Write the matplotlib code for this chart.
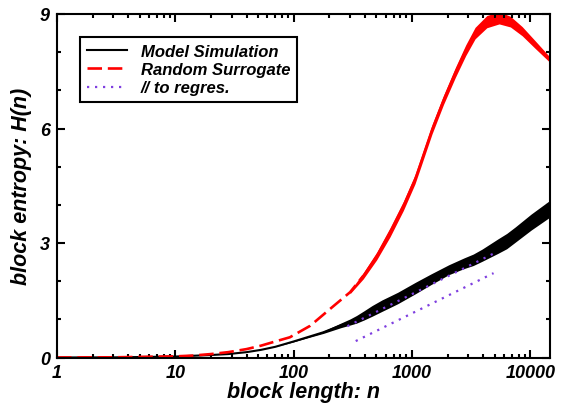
import matplotlib
matplotlib.use("Agg")
import matplotlib.pyplot as plt
from matplotlib.ticker import LogLocator, NullFormatter

# block entropy of the model run
sim_n = [1, 3, 10, 14, 20, 28, 40, 53, 70, 100, 140, 178, 250, 300, 340, 392, 460, 560, 653, 760,
         1070, 1450, 2050, 2760, 3300, 3920, 5350, 6330, 7470, 10200, 14700]
sim_h = [0, 0.003, 0.025, 0.045, 0.065, 0.09, 0.14, 0.2, 0.28, 0.42, 0.56, 0.66, 0.84, 0.93, 1.0, 1.1, 1.22, 1.36, 1.46, 1.56,
         1.82, 2.05, 2.3, 2.47, 2.56, 2.68, 2.92, 3.05, 3.22, 3.55, 3.9]
# half-width of the fluctuations around it
sim_spread = [0, 0, 0, 0, 0, 0, 0, 0, 0, 0.01, 0.02, 0.03, 0.06, 0.08, 0.1, 0.12, 0.14, 0.15, 0.15, 0.15,
              0.15, 0.14, 0.13, 0.14, 0.15, 0.16, 0.19, 0.2, 0.2, 0.21, 0.22]

# block entropy of the shuffled surrogate
surr_n = [1, 3, 10, 14, 20, 28, 40, 53, 70, 93, 138, 203, 300, 388, 504, 653, 846, 1062,
          1200, 1480, 1850, 2330, 2850, 3420, 4300, 5460, 6800, 8550, 11000, 14700]
surr_h = [0, 0.005, 0.03, 0.05, 0.09, 0.14, 0.22, 0.31, 0.42, 0.53, 0.83, 1.27, 1.71, 2.14, 2.66, 3.28, 3.97, 4.67,
          5.15, 5.98, 6.75, 7.47, 8.05, 8.5, 8.8, 8.9, 8.8, 8.55, 8.2, 7.8]
surr_spread = [0, 0, 0, 0, 0, 0, 0, 0, 0, 0, 0, 0, 0.04, 0.08, 0.1, 0.12, 0.12, 0.12,
               0.12, 0.12, 0.12, 0.13, 0.14, 0.15, 0.16, 0.16, 0.14, 0.12, 0.1, 0.07]
NOISY_START = 12  # surrogate fluctuations become visible from this index
DASH_END = 14     # dashed pattern is drawn up to this index

# lines parallel to the regression
fit_n = [285, 4950]
fit_upper = [0.82, 2.73]
fit_low_n = [335, 4900]
fit_lower = [0.43, 2.21]

xticks = [1, 10, 100, 1000, 10000]
xticklabels = ["1", "10", "100", "1000", "10000"]
yticks = [0, 3, 6, 9]

FONT = dict(family="Liberation Sans", weight="bold", style="italic")
PURPLE = "#7f3fe0"

fig = plt.figure(figsize=(5.62, 4.06), dpi=100)
ax = fig.add_axes([57 / 562, 47.5 / 406, 493 / 562, 343.5 / 406])

lo = [h - s for h, s in zip(sim_h, sim_spread)]
hi = [h + s for h, s in zip(sim_h, sim_spread)]
ax.fill_between(sim_n, lo, hi, color="black", lw=0)
ax.plot(sim_n, sim_h, color="black", lw=1.5, label="Model Simulation")

ax.plot(surr_n[:DASH_END], surr_h[:DASH_END], color="red", lw=1.9,
        dashes=(5.5, 2.2), label="Random Surrogate")
k = NOISY_START
lo = [h - s for h, s in zip(surr_h[k:], surr_spread[k:])]
hi = [h + s for h, s in zip(surr_h[k:], surr_spread[k:])]
ax.fill_between(surr_n[k:], lo, hi, color="red", lw=0)
ax.plot(surr_n[k + 1:], surr_h[k + 1:], color="red", lw=1.5)

ax.plot(fit_n, fit_upper, color=PURPLE, lw=1.6, dashes=(1, 2.6),
        dash_capstyle="butt", label="// to regres.")
ax.plot(fit_low_n, fit_lower, color=PURPLE, lw=1.6, dashes=(1, 2.6),
        dash_capstyle="butt")

ax.set_xscale("log")
ax.set_xlim(1, 14700)
ax.set_ylim(0, 9)
ax.set_xticks(xticks)
ax.set_xticklabels(xticklabels)
ax.xaxis.set_minor_locator(LogLocator(base=10, subs=range(2, 10)))
ax.xaxis.set_minor_formatter(NullFormatter())
ax.set_yticks(yticks)
ax.set_yticks([1, 2, 4, 5, 7, 8], minor=True)
ax.tick_params(which="both", direction="in", top=True, right=True, width=1.5)
ax.tick_params(which="major", length=6, pad=5)
ax.tick_params(which="minor", length=3)
for lab in ax.get_xticklabels() + ax.get_yticklabels():
    lab.set(size=13, **FONT)
for sp in ax.spines.values():
    sp.set_linewidth(1.5)

ax.set_xlabel("block length: n", size=15.5, labelpad=0, **FONT)
ax.set_ylabel("block entropy: H(n)", size=15.5, labelpad=6, **FONT)

leg = ax.legend(loc="upper left", bbox_to_anchor=(0.047, 0.933), borderaxespad=0,
                prop=dict(size=12, **FONT), fancybox=False, framealpha=1,
                edgecolor="black", handlelength=2.4, handletextpad=0.85,
                labelspacing=0.2, borderpad=0.4)
leg.get_frame().set_linewidth(1.5)

fig.savefig("out.png", dpi=100)
